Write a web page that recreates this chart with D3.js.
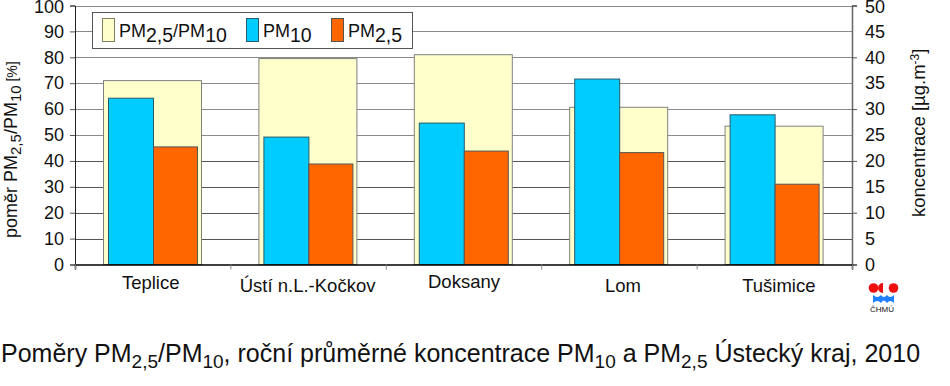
<!DOCTYPE html>
<html>
<head>
<meta charset="utf-8">
<script src="https://cdn.jsdelivr.net/npm/d3@7"></script>
<style>
body { margin: 0; background: #fff; }
svg { display: block; font-family: "Liberation Sans", Arial, sans-serif; fill: #111; }
</style>
</head>
<body>
<div id="chart"></div>
<script>
const stations = ["Teplice", "Ústí n.L.-Kočkov", "Doksany", "Lom", "Tušimice"];
const ratio = [71, 79.5, 81, 60.7, 53.4];
const pm10 = [32.1, 24.6, 27.3, 35.8, 28.9];
const pm25 = [22.7, 19.4, 21.9, 21.6, 15.5];
const leftTicks = d3.range(0, 101, 10);
const rightTicks = d3.range(0, 51, 5);

const width = 950, height = 386;
const plot = { left: 75, right: 852, top: 5.5, bottom: 264.5 };

const svg = d3.select("#chart").append("svg")
    .attr("width", width)
    .attr("height", height);

const x = d3.scaleBand().domain(stations).range([plot.left, plot.right]);
const edges = d3.scaleLinear().domain([0, stations.length]).range([plot.left, plot.right]);
const yLeft = d3.scaleLinear().domain([0, 100]).range([plot.bottom, plot.top]);
const yRight = d3.scaleLinear().domain([0, 50]).range([plot.bottom, plot.top]);

// text with sub/superscripts: parts are [text, dy, size]
function rich(sel, parts, size) {
    let shift = 0;
    parts.forEach(p => {
        const dy = p[1] || 0;
        sel.append("tspan")
            .attr("dy", dy - shift)
            .attr("font-size", p[2] || size)
            .text(p[0]);
        shift = dy;
    });
}

// grid
svg.append("g").selectAll("line")
    .data(leftTicks.filter(d => d > 0))
    .enter().append("line")
    .attr("x1", plot.left).attr("x2", plot.right)
    .attr("y1", d => Math.round(yLeft(d)) + 0.5)
    .attr("y2", d => Math.round(yLeft(d)) + 0.5)
    .attr("stroke", d => d >= 50 ? "#8a8a8a" : "#555")
    .attr("stroke-width", 1);

// ratio bars, behind everything
svg.append("g").selectAll("rect")
    .data(stations)
    .enter().append("rect")
    .attr("x", d => x(d) + 28.5)
    .attr("width", 98)
    .attr("y", (d, i) => yLeft(ratio[i]))
    .attr("height", (d, i) => plot.bottom - yLeft(ratio[i]))
    .attr("fill", "#ffffcc")
    .attr("stroke", "#808080");

svg.append("g").selectAll("rect")
    .data(stations)
    .enter().append("rect")
    .attr("x", d => x(d) + 33.5)
    .attr("width", 45)
    .attr("y", (d, i) => yRight(pm10[i]))
    .attr("height", (d, i) => plot.bottom - yRight(pm10[i]))
    .attr("fill", "#00ccff")
    .attr("stroke", "#2a5a6a");

svg.append("g").selectAll("rect")
    .data(stations)
    .enter().append("rect")
    .attr("x", d => x(d) + 78.5)
    .attr("width", 44)
    .attr("y", (d, i) => yRight(pm25[i]))
    .attr("height", (d, i) => plot.bottom - yRight(pm25[i]))
    .attr("fill", "#ff6600")
    .attr("stroke", "#555");

// axes
const axisLeft = svg.append("g")
    .attr("transform", `translate(${plot.left},0)`)
    .call(d3.axisLeft(yLeft).tickValues(leftTicks).tickSize(5).tickPadding(6));
const axisRight = svg.append("g")
    .attr("transform", `translate(${plot.right},0)`)
    .call(d3.axisRight(yRight).tickValues(rightTicks).tickSize(5).tickPadding(8));
axisRight.selectAll(".tick line").attr("stroke-opacity", d => d % 10 === 0 ? 1 : 0);
const axisBottom = svg.append("g")
    .attr("transform", `translate(0,${plot.bottom})`)
    .call(d3.axisBottom(edges).tickValues(d3.range(0, 6)).tickSize(5).tickFormat(""));

axisLeft.selectAll(".domain").attr("stroke", "#222");
axisRight.selectAll(".domain").attr("stroke", "#666").attr("stroke-width", 1.5);
axisRight.selectAll(".tick line").attr("stroke", "#555");
axisLeft.selectAll(".tick line").attr("stroke", "#555");
axisBottom.selectAll(".tick line").attr("stroke", "#888");
axisBottom.selectAll(".domain").attr("stroke", "#000").attr("stroke-width", 1.5);
svg.selectAll(".tick text")
    .attr("font-family", "Liberation Sans")
    .attr("font-size", 18)
    .attr("fill", "#111");
// top labels sit against the page edge
axisLeft.selectAll(".tick text").filter(d => d === 100).attr("y", 1.5);
axisRight.selectAll(".tick text").filter(d => d === 50).attr("y", 1.5);

// category labels are not evenly placed in the original
const labelDrop = [0, 3, -1, 3, 3];
const labelShift = [-1.5, 0, 1, 4.5, 5];
svg.append("g").selectAll("text")
    .data(stations)
    .enter().append("text")
    .attr("x", (d, i) => x(d) + x.bandwidth() / 2 - 0.5 + labelShift[i])
    .attr("y", (d, i) => 289 + labelDrop[i])
    .attr("text-anchor", "middle")
    .attr("font-size", 18.5)
    .text(d => d);

// axis titles
rich(svg.append("text").attr("transform", "translate(16.5,238) rotate(-90)"),
    [["poměr PM"], ["2,5", 4, 15], ["/PM"], ["10", 4, 15], [" [%]", 0, 14]], 18);
rich(svg.append("text").attr("transform", "translate(925,217) rotate(-90)"),
    [["koncentrace [µg.m"], ["-3", -6, 12], ["]"]], 18.5);

// legend
const legend = svg.append("g");
legend.append("rect")
    .attr("x", 92.5).attr("y", 12.5).attr("width", 320).attr("height", 36)
    .attr("fill", "#fff").attr("stroke", "#555");
const legendItems = [
    { x: 102.5, fill: "#ffffcc", stroke: "#808060", parts: [["PM"], ["2,5", 5, 19.5], ["/PM"], ["10", 5, 19.5]], tx: 119 },
    { x: 246.5, fill: "#00ccff", stroke: "#2a5a6a", parts: [["PM"], ["10", 5, 19.5]], tx: 263 },
    { x: 331.5, fill: "#ff6600", stroke: "#555", parts: [["PM"], ["2,5", 5, 19.5]], tx: 348 }
];
legendItems.forEach(d => {
    legend.append("rect")
        .attr("x", d.x).attr("y", 18.5).attr("width", 12).attr("height", 23)
        .attr("fill", d.fill).attr("stroke", d.stroke);
    rich(legend.append("text").attr("x", d.tx).attr("y", 37), d.parts, 18);
});

// title
rich(svg.append("text").attr("x", 1).attr("y", 362),
    [["Poměry PM"], ["2,5", 6, 19], ["/PM"], ["10", 6, 19],
     [", roční průměrné koncentrace PM"], ["10", 6, 19], [" a PM"], ["2,5", 6, 19],
     [" Ústecký kraj, 2010"]], 25);

// ČHMÚ logo
const logo = svg.append("g").attr("transform", "translate(882,288)");
logo.append("circle").attr("cx", -8.5).attr("cy", 0).attr("r", 4.8).attr("fill", "#f01010");
logo.append("path").attr("d", "M1,-5 A5,5 0 0 0 1,5 Z").attr("fill", "#f01010");
logo.append("circle").attr("cx", 11.5).attr("cy", 0).attr("r", 4.8).attr("fill", "#f01010");
logo.append("path")
    .attr("d", "M-9,7 Q-4.5,11 -1,7 Q1.5,11 5,7 Q8,11 12,7 L12,15 Q8,11 5,15 Q1.5,10 -1,15 Q-4.5,11 -9,15 Z")
    .attr("fill", "#1e7fff");
logo.append("text").attr("x", 0).attr("y", 24).attr("text-anchor", "middle").attr("font-size", 8).text("ČHMÚ");
</script>
</body>
</html>
